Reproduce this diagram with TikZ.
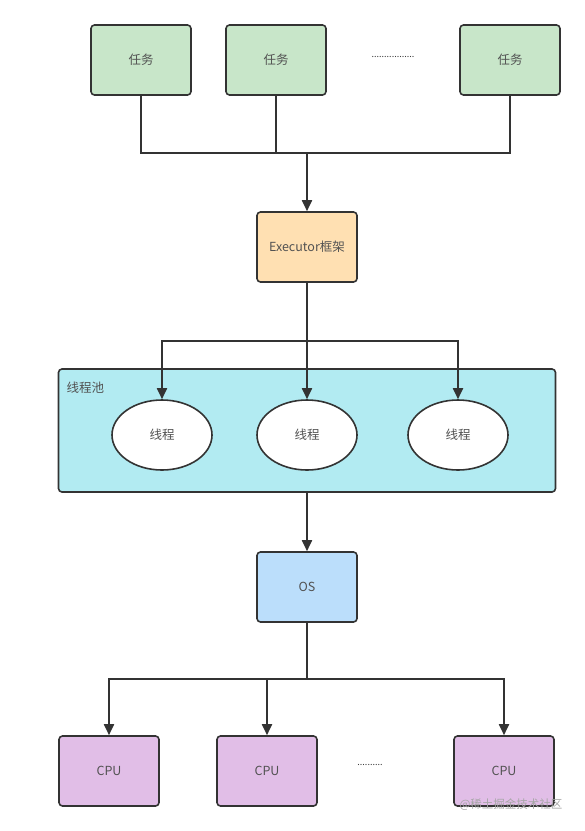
\documentclass[tikz,border=0pt]{standalone}
\usepackage{fontspec}
\setmainfont{Noto Sans CJK SC}
\usetikzlibrary{arrows.meta,shapes.geometric}
\definecolor{cline}{HTML}{333333}
\definecolor{cgreen}{HTML}{C8E6C9}
\definecolor{corange}{HTML}{FFE0B2}
\definecolor{ccyan}{HTML}{B2EBF2}
\definecolor{cblue}{HTML}{BBDEFB}
\definecolor{cpurple}{HTML}{E1BEE7}
\tikzset{
  box/.style={draw=cline, line width=1.6pt, rounded corners=3.5pt, minimum width=100pt, minimum height=70pt, font=\fontsize{12.5}{14}\selectfont, text=cline!85},
  thread/.style={draw=cline, line width=1.6pt, ellipse, fill=white, minimum width=100pt, minimum height=70pt, font=\fontsize{12.5}{14}\selectfont, text=cline!85},
  conn/.style={draw=cline, line width=1.8pt},
  arr/.style={conn, -{Triangle[length=11pt,width=10pt]}},
  dots/.style={font=\fontsize{9}{10}\selectfont, text=cline},
}
\begin{document}
\begin{tikzpicture}[x=1pt,y=-1pt]
\useasboundingbox (0,0) rectangle (585,831);
% tasks
\node[box, fill=cgreen] (t1) at (141,60) {任务};
\node[box, fill=cgreen] (t2) at (276,60) {任务};
\node[box, fill=cgreen] (t3) at (510,60) {任务};
\node[dots] (d1) at (393,57) {.................};
% executor
\node[box, fill=corange] (exe) at (307,247) {Executor框架};
% pool
\node[draw=cline, line width=1.6pt, rounded corners=3.5pt, fill=ccyan, minimum width=497pt, minimum height=123pt] (pool) at (307,430.5) {};
\node[anchor=west, font=\fontsize{12.5}{14}\selectfont, text=cline!85] (plabel) at (63,388) {线程池};
\node[thread] (th1) at (162,435) {线程};
\node[thread] (th2) at (307,435) {线程};
\node[thread] (th3) at (458,435) {线程};
% OS
\node[box, fill=cblue] (os) at (307,587) {OS};
% CPUs
\node[box, fill=cpurple] (c1) at (109,771) {CPU};
\node[box, fill=cpurple] (c2) at (267,771) {CPU};
\node[box, fill=cpurple] (c3) at (504,771) {CPU};
\node[dots] (d2) at (370,765) {..........};
% connectors
\coordinate (j1) at (307,153);
\draw[conn] (t1.south) |- (j1);
\draw[conn] (t3.south) |- (j1);
\draw[conn] (t2.south) -- (t2.south |- j1);
\draw[arr] (j1) -- (exe.north);
\coordinate (j2) at (307,341);
\draw[conn] (exe.south) -- (j2);
\draw[arr] (j2) -| (th1.north);
\draw[arr] (j2) -| (th3.north);
\draw[arr] (j2) -- (th2.north);
\draw[arr] (pool.south) -- (os.north);
\coordinate (j3) at (307,679);
\draw[conn] (os.south) -- (j3);
\draw[arr] (j3) -| (c1.north);
\draw[arr] (j3) -| (c2.north);
\draw[arr] (j3) -| (c3.north);
% watermark
\node[font=\fontsize{11.5}{12}\selectfont, text=gray!70] (wm) at (511,805) {@稀土掘金技术社区};
\end{tikzpicture}
\end{document}
